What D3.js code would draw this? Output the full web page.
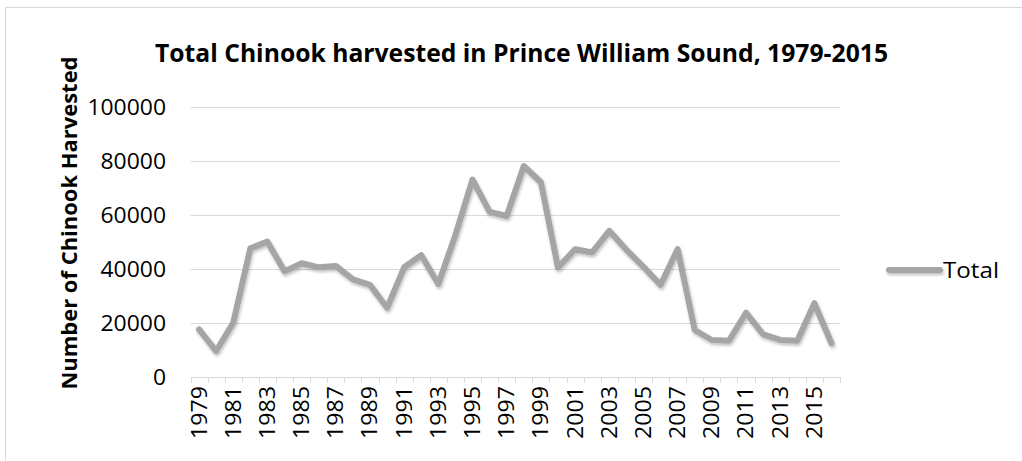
<!DOCTYPE html>
<html>
<head>
<meta charset="utf-8">
<script src="https://cdn.jsdelivr.net/npm/d3@7"></script>
<style>
  html, body { margin: 0; padding: 0; background: #fff; }
  svg { display: block; }
  text { font-family: "Open Sans", "Noto Sans", sans-serif; fill: #000; }
</style>
</head>
<body>
<svg id="chart" width="1022" height="461"></svg>
<script>
// Annual Chinook harvest totals, Prince William Sound
const years = [1979, 1980, 1981, 1982, 1983, 1984, 1985, 1986, 1987, 1988,
               1989, 1990, 1991, 1992, 1993, 1994, 1995, 1996, 1997, 1998,
               1999, 2000, 2001, 2002, 2003, 2004, 2005, 2006, 2007, 2008,
               2009, 2010, 2011, 2012, 2013, 2014, 2015, 2016];
const totals = [17500, 9500, 20000, 47500, 50000, 39000, 42000, 40500, 41000, 36000,
                34000, 25500, 40500, 45000, 34300, 52500, 73000, 61000, 59500, 78000,
                72000, 40400, 47200, 46000, 54000, 47000, 40700, 34000, 47200, 17300,
                13600, 13300, 23700, 15700, 13600, 13300, 27200, 12400];
const yTickValues = [0, 20000, 40000, 60000, 80000, 100000];
const xLabelYears = [1979, 1981, 1983, 1985, 1987, 1989, 1991, 1993, 1995, 1997,
                     1999, 2001, 2003, 2005, 2007, 2009, 2011, 2013, 2015];
const seriesName = "Total";
const titleText = "Total Chinook harvested in Prince William Sound, 1979-2015";
const yTitleText = "Number of Chinook Harvested";

const svg = d3.select("#chart");
const plot = { left: 190.5, right: 840, top: 106.6, bottom: 376.7 };
const gridColor = "#D9D9D9";
const lineColor = "#A5A5A5";

// chart frame
svg.append("rect")
  .attr("x", 5.5).attr("y", 7.5)
  .attr("width", 1040).attr("height", 480)
  .attr("fill", "#fff").attr("stroke", gridColor).attr("stroke-width", 1);

const x = d3.scaleBand().domain(years).range([plot.left, plot.right]).paddingInner(0).paddingOuter(0);
const y = d3.scaleLinear().domain([0, 100000]).range([plot.bottom, plot.top]);
const cx = d => x(d) + x.bandwidth() / 2;

// horizontal gridlines
svg.append("g")
  .selectAll("line")
  .data(yTickValues.filter(v => v > 0))
  .join("line")
  .attr("x1", plot.left).attr("x2", plot.right)
  .attr("y1", d => Math.round(y(d)) + 0.5).attr("y2", d => Math.round(y(d)) + 0.5)
  .attr("stroke", gridColor).attr("stroke-width", 1);

// y axis labels
const yAxis = d3.axisLeft(y).tickValues(yTickValues).tickSize(0).tickPadding(0)
  .tickFormat(d3.format("d"));
svg.append("g")
  .attr("transform", `translate(166,0)`)
  .call(yAxis)
  .call(g => g.select(".domain").remove())
  .call(g => g.selectAll("text")
    .attr("font-family", "'Open Sans', sans-serif")
    .attr("font-size", 22)
    .attr("fill", "#000")
    .attr("dy", "0.36em")
    .attr("textLength", d => String(d).length * 13.1)
    .attr("lengthAdjust", "spacingAndGlyphs"));

// category axis line and tick marks at band edges
const xAxisG = svg.append("g");
xAxisG.append("line")
  .attr("x1", plot.left).attr("x2", plot.right)
  .attr("y1", Math.round(plot.bottom) + 0.5).attr("y2", Math.round(plot.bottom) + 0.5)
  .attr("stroke", gridColor).attr("stroke-width", 1);
const edges = years.map(d => x(d)).concat([plot.right]);
xAxisG.selectAll("line.tick")
  .data(edges)
  .join("line")
  .attr("class", "tick")
  .attr("x1", d => Math.round(d) + 0.5).attr("x2", d => Math.round(d) + 0.5)
  .attr("y1", Math.round(plot.bottom)).attr("y2", Math.round(plot.bottom) + 6)
  .attr("stroke", gridColor).attr("stroke-width", 1);

// rotated year labels
xAxisG.selectAll("text")
  .data(xLabelYears)
  .join("text")
  .attr("transform", d => `translate(${cx(d) + 7.5},386) rotate(-90)`)
  .attr("text-anchor", "end")
  .attr("font-size", 22)
  .attr("textLength", 53)
  .attr("lengthAdjust", "spacingAndGlyphs")
  .text(d => d);

// soft shadow under the series line
const defs = svg.append("defs");
const f = defs.append("filter").attr("id", "lineShadow")
  .attr("filterUnits", "userSpaceOnUse")
  .attr("x", 0).attr("y", 0).attr("width", 1022).attr("height", 461);
f.append("feDropShadow")
  .attr("dx", 1).attr("dy", 2).attr("stdDeviation", 1.5)
  .attr("flood-color", "#000").attr("flood-opacity", 0.25);

const line = d3.line()
  .x((d, i) => cx(years[i]))
  .y(d => y(d));

svg.append("path")
  .datum(totals)
  .attr("d", line)
  .attr("fill", "none")
  .attr("stroke", lineColor)
  .attr("stroke-width", 6)
  .attr("stroke-linejoin", "round")
  .attr("stroke-linecap", "round")
  .attr("filter", "url(#lineShadow)");

// title
svg.append("text")
  .attr("x", 155).attr("y", 62)
  .attr("font-size", 25)
  .attr("font-weight", "bold")
  .attr("textLength", 733)
  .attr("lengthAdjust", "spacingAndGlyphs")
  .text(titleText);

// y axis title
svg.append("text")
  .attr("transform", "translate(77,223) rotate(-90)")
  .attr("text-anchor", "middle")
  .attr("font-size", 21)
  .attr("font-weight", "bold")
  .attr("textLength", 333)
  .attr("lengthAdjust", "spacingAndGlyphs")
  .text(yTitleText);

// legend
const legend = svg.append("g");
legend.append("line")
  .attr("x1", 889).attr("x2", 940)
  .attr("y1", 270).attr("y2", 270)
  .attr("stroke", lineColor).attr("stroke-width", 6)
  .attr("stroke-linecap", "round")
  .attr("filter", "url(#lineShadow)");
legend.append("text")
  .attr("x", 943).attr("y", 278)
  .attr("font-size", 22)
  .attr("textLength", 56)
  .attr("lengthAdjust", "spacingAndGlyphs")
  .text(seriesName);
</script>
</body>
</html>
